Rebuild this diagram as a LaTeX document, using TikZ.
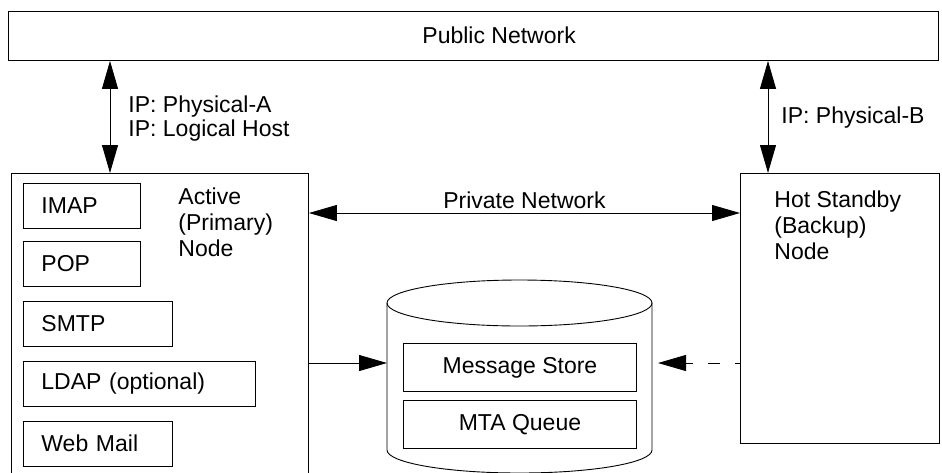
\documentclass[tikz,border=0pt]{standalone}
\usepackage{fontspec}
\setmainfont{Liberation Sans}
\usetikzlibrary{arrows.meta,positioning}

\begin{document}
\begin{tikzpicture}[x=1pt,y=-1pt,line width=0.9pt,font=\fontsize{23}{26}\selectfont,node distance=14pt,
  hostbox/.style={draw,anchor=north west,inner sep=0pt},
  svcbox/.style={draw,anchor=north west,minimum height=45pt,text width=#1,inner xsep=18pt,inner ysep=0pt,align=left},
  qbox/.style={draw,anchor=north west,minimum width=233pt,minimum height=48pt,inner sep=0pt},
  lbl/.style={anchor=north west,inner sep=0pt,align=left},
  one/.style={-{Triangle[length=28pt,width=16pt]}},
  two/.style={{Triangle[length=28pt,width=16pt]}-{Triangle[length=28pt,width=16pt]}}]
\useasboundingbox (0,0) rectangle (942,472);
\clip (0,0) rectangle (942,472);
\node[hostbox,minimum width=930pt,minimum height=49pt] (pub) at (8,11) {};
\node[lbl] (publbl) at (422,26) {Public Network};
\node[hostbox,minimum width=297pt,minimum height=320pt] (active) at (11,173) {};
\node[lbl] (activelbl) at (178,187) {Active\\(Primary)\\Node};
\node[hostbox,minimum width=199pt,minimum height=270pt] (hot) at (740,173) {};
\node[lbl] (hotlbl) at (774,190) {Hot Standby\\(Backup)\\Node};
\node[svcbox=81pt] (imap) at (23,183) {IMAP};
\node[svcbox=81pt,below=12pt of imap.south west,anchor=north west] (pop) {POP};
\node[svcbox=113pt,below=of pop.south west,anchor=north west] (smtp) {SMTP};
\node[svcbox=196pt,below=of smtp.south west,anchor=north west] (ldap) {LDAP (optional)};
\node[svcbox=113pt,below=of ldap.south west,anchor=north west] (web) {Web Mail};
\draw (387,303) -- (387,450) arc (180:0:132.5 and 23) -- (652,303);
\draw (519.5,303) ellipse (132.5 and 23);
\node[qbox] (msg) at (403,343) {Message Store};
\node[qbox,below=8pt of msg.south west,anchor=north west] (mta) {MTA Queue};
\coordinate (cylL) at (387,363);
\coordinate (cylR) at (658,363);
\node[lbl,font=\fontsize{23}{24}\selectfont] (ipa) at (128,95) {IP: Physical-A\\IP: Logical Host};
\node[lbl] (ipb) at (781,106) {IP: Physical-B};
\draw[two] ([xshift=99pt]active.north west) -- ([xshift=99pt]active.north west |- pub.south);
\draw[two] ([xshift=28pt]hot.north west) -- ([xshift=28pt]hot.north west |- pub.south);
\draw[two] ([yshift=-40pt]active.north east) -- ([yshift=-40pt]active.north east -| hot.west)
  node[midway,above] {Private Network};
\draw[one] (active.east |- cylL) -- (cylL);
\draw[one,dash pattern=on 12pt off 15pt,dash phase=7pt] (hot.west |- cylR) -- (cylR);
\end{tikzpicture}
\end{document}
